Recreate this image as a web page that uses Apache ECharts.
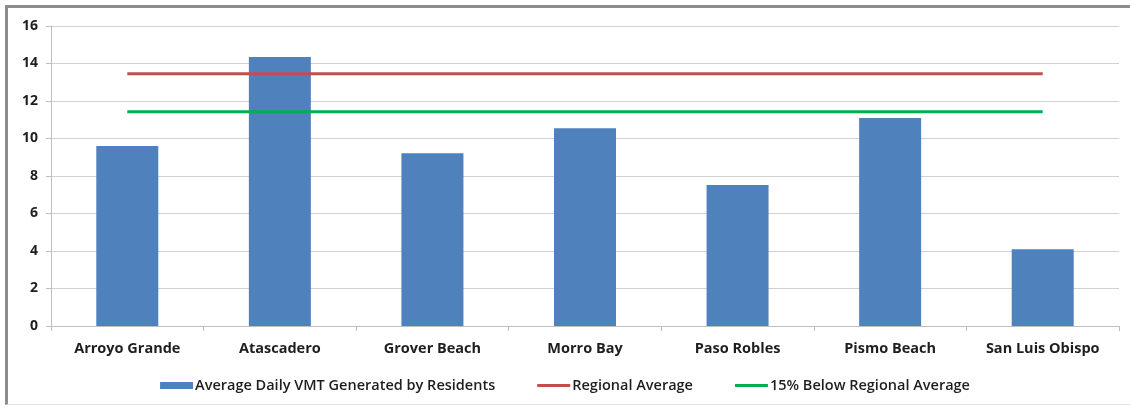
<!DOCTYPE html>
<html>
<head>
<meta charset="utf-8">
<script src="https://cdn.jsdelivr.net/npm/echarts@6/dist/echarts.min.js"></script>
<style>
  html, body { margin: 0; padding: 0; background: #fff; }
  #frame {
    position: absolute; left: 5px; top: 5px; width: 1130px; height: 400px;
    border-left: 3px solid #8c8c8c; border-top: 3px solid #8c8c8c;
    border-bottom: 1px solid #e2e2e2; box-sizing: border-box;
  }
  #chart { position: absolute; left: 0; top: 0; width: 1130px; height: 409px; }
</style>
</head>
<body>
<div id="frame"></div>
<div id="chart"></div>
<script>
// Average daily vehicle miles travelled per resident, by city
const cities = ['Arroyo Grande', 'Atascadero', 'Grover Beach', 'Morro Bay', 'Paso Robles', 'Pismo Beach', 'San Luis Obispo'];
const residentVMT = [9.6, 14.35, 9.22, 10.55, 7.52, 11.1, 4.1];
const regionalAverage = 13.45;
const belowAverage15 = 11.43;
const yTicks = { min: 0, max: 16, interval: 2 };

const seriesNames = ['Average Daily VMT Generated by Residents', 'Regional Average', '15% Below Regional Average'];
const fontFamily = '"Open Sans", Lato, sans-serif';
const lineIcon = 'path://M0,0 H33 V3 H0 Z';

const chart = echarts.init(document.getElementById('chart'), null, { renderer: 'canvas' });
chart.setOption({
  animation: false,
  grid: { left: 51, right: 11, top: 26, bottom: 83, containLabel: false },
  legend: {
    bottom: 11,
    left: 'center',
    itemGap: 42,
    itemWidth: 33,
    itemHeight: 7,
    textStyle: { fontFamily, fontSize: 14.5, color: '#1e1e1e', fontWeight: 600, padding: [0, 0, 0, -3] },
    data: [
      { name: seriesNames[0], icon: 'rect' },
      { name: seriesNames[1], icon: lineIcon },
      { name: seriesNames[2], icon: lineIcon }
    ]
  },
  xAxis: {
    type: 'category',
    data: cities,
    axisLine: { lineStyle: { color: '#bfbfbf', width: 1 } },
    axisTick: { show: true, length: 5, alignWithLabel: false, lineStyle: { color: '#bfbfbf' } },
    axisLabel: { margin: 15, fontFamily, fontSize: 14.5, fontWeight: 'bold', color: '#1e1e1e' },
    splitLine: { show: false }
  },
  yAxis: {
    type: 'value',
    min: yTicks.min, max: yTicks.max, interval: yTicks.interval,
    axisLine: { show: true, lineStyle: { color: '#bfbfbf', width: 1 } },
    axisTick: { show: true, length: 5, lineStyle: { color: '#bfbfbf' } },
    axisLabel: { margin: 13, fontFamily, fontSize: 14, fontWeight: 'bold', color: '#1e1e1e' },
    splitLine: { lineStyle: { color: '#d0d0d0', width: 1 } }
  },
  series: [
    {
      name: seriesNames[0],
      type: 'bar',
      data: residentVMT,
      barWidth: 62,
      itemStyle: { color: '#4F81BD' },
      z: 2
    },
    {
      name: seriesNames[1],
      type: 'line',
      data: cities.map(() => regionalAverage),
      symbol: 'none',
      lineStyle: { color: '#C0504D', width: 3 },
      itemStyle: { color: '#C0504D' },
      z: 3
    },
    {
      name: seriesNames[2],
      type: 'line',
      data: cities.map(() => belowAverage15),
      symbol: 'none',
      lineStyle: { color: '#00B050', width: 3 },
      itemStyle: { color: '#00B050' },
      z: 3
    }
  ]
});
</script>
</body>
</html>
